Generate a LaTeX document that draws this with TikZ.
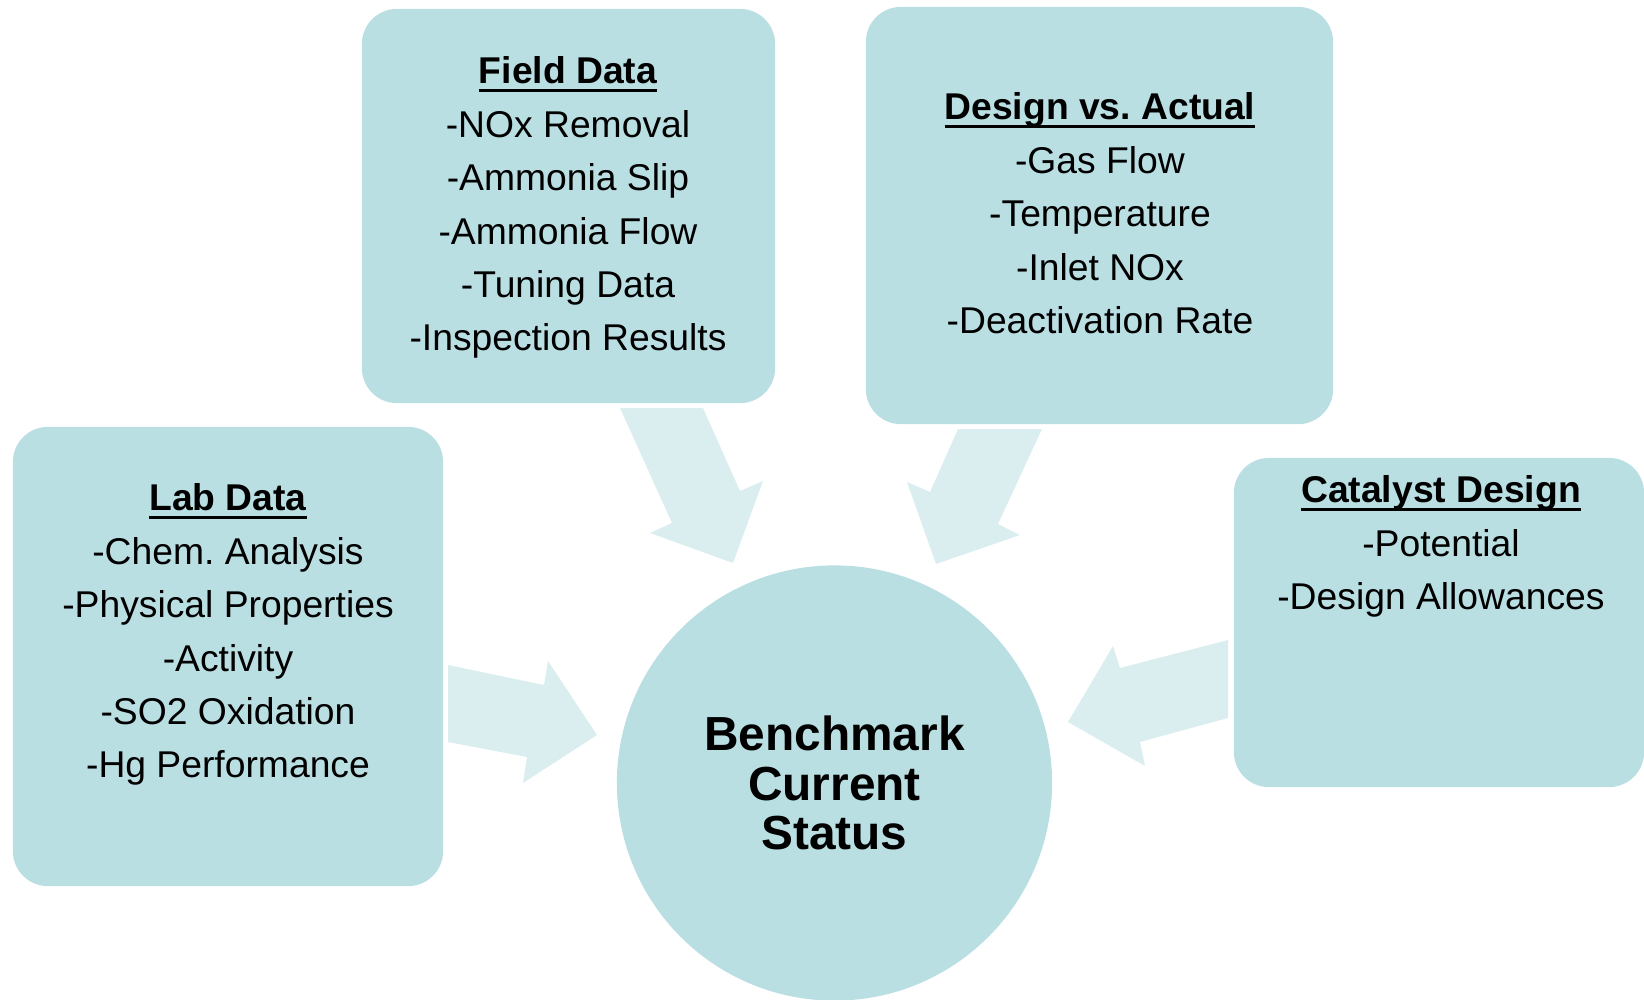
\documentclass[tikz,border=0pt]{standalone}
\usepackage{fontspec}
\setmainfont{Liberation Sans}
\frenchspacing
\definecolor{boxfill}{RGB}{186,223,227}
\definecolor{arrowfill}{RGB}{218,237,239}
\newcommand{\headline}[1]{\setbox0=\hbox{\bfseries #1}\rlap{\rule[-2.4pt]{\wd0}{0.85pt}}\box0}

\begin{document}
\begin{tikzpicture}[x=0.01cm, y=-0.01cm,
	panel/.style={fill=boxfill, rounded corners=0.35cm, inner sep=0pt, outer sep=0pt},
	listtext/.style={anchor=north, align=center, inner sep=0pt, font=\fontsize{10.6}{15.2}\selectfont},
	blockarrow/.style={fill=arrowfill}]
			\useasboundingbox (0,0) rectangle (1644,999);
			\fill[blockarrow] (620,408) -- (703,408) -- (740,491) -- (763,481) -- (733,563) -- (650,533) -- (672,523) -- cycle;
			\fill[blockarrow] (958,429) -- (1042,429) -- (998,524) -- (1020,535) -- (936,564) -- (907,482) -- (930,492) -- cycle;
			\fill[blockarrow] (448,665) -- (544,685) -- (548,661) -- (597,735) -- (523,783) -- (527,757) -- (448,742) -- cycle;
			\fill[blockarrow] (1228,640) -- (1120,668) -- (1113,646) -- (1068,722) -- (1145,766) -- (1140,742) -- (1228,718) -- cycle;
			\node[panel, minimum width=4.13cm, minimum height=3.94cm] (field) at (568.5,206) {};
			\node[panel, minimum width=4.67cm, minimum height=4.17cm] (design) at (1099.5,215.5) {};
			\node[panel, minimum width=4.30cm, minimum height=4.59cm] (lab) at (228,656.5) {};
			\node[panel, minimum width=4.10cm, minimum height=3.29cm] (catalyst) at (1439,622.5) {};
			\node[listtext] (fieldlist) at (568,56) {\headline{Field Data}\\-NOx Removal\\-Ammonia Slip\\-Ammonia Flow\\-Tuning Data\\-Inspection Results};
			\node[listtext] (designlist) at (1100,92) {\headline{Design vs. Actual}\\-Gas Flow\\-Temperature\\-Inlet NOx\\-Deactivation Rate};
			\node[listtext] (lablist) at (228,483) {\headline{Lab Data}\\-Chem. Analysis\\-Physical Properties\\-Activity\\-SO2 Oxidation\\-Hg Performance};
			\node[listtext] (catalystlist) at (1441,475) {\headline{Catalyst Design}\\-Potential\\-Design Allowances};
			\node[circle, fill=boxfill, minimum size=4.35cm, inner sep=0pt, align=center, font=\fontsize{13.6}{14.1}\selectfont\bfseries] (bench) at (834.5,783) {Benchmark\\Current\\Status};
		\end{tikzpicture}
\end{document}
